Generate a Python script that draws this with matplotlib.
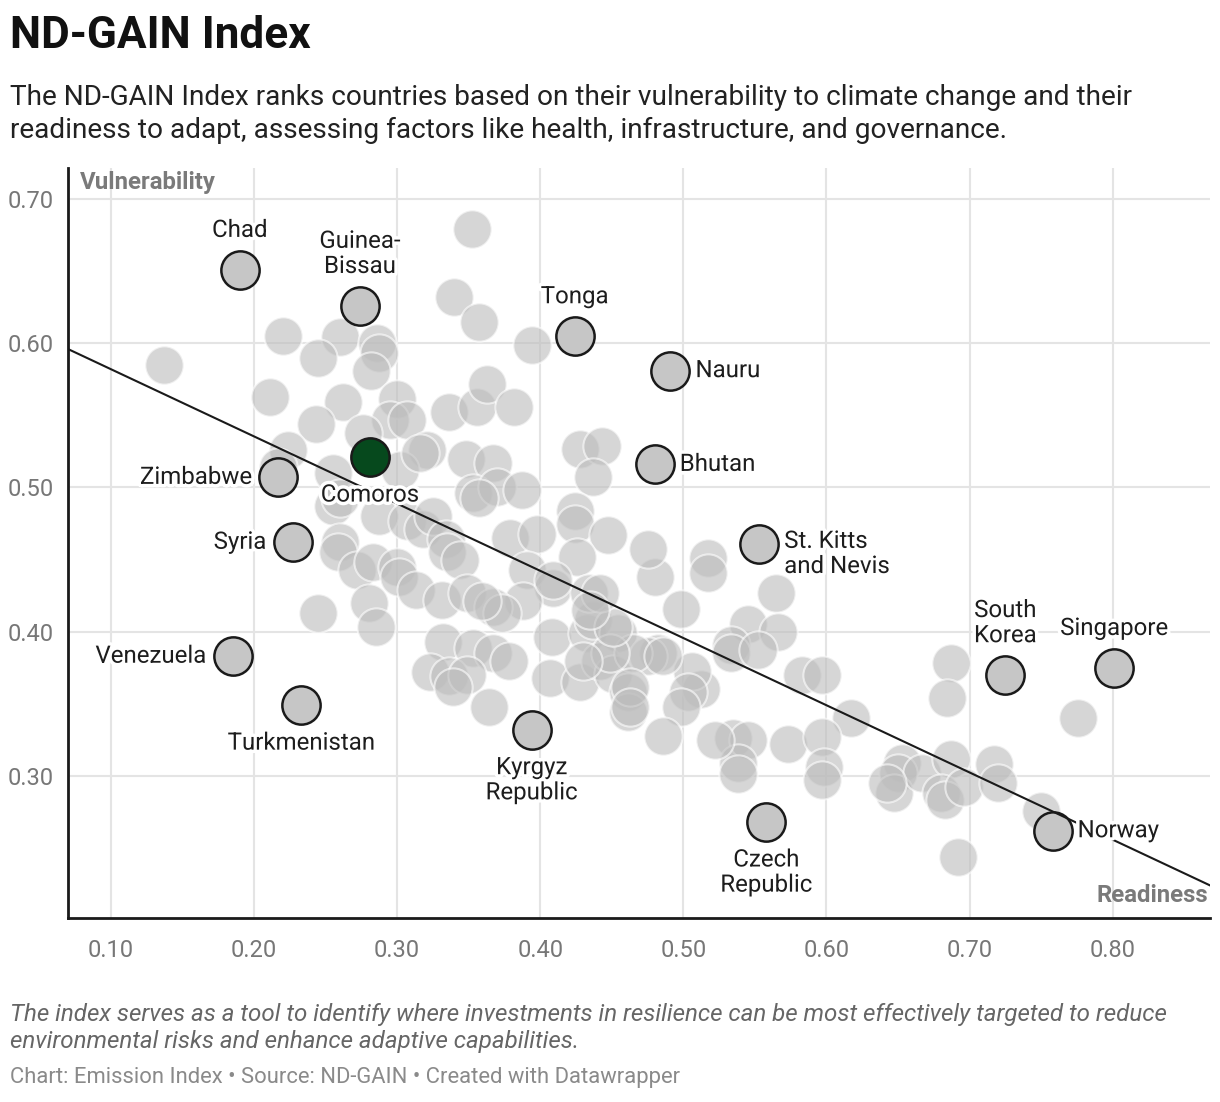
import matplotlib.pyplot as plt
import matplotlib.patheffects as pe
import numpy as np

plt.rcParams['font.family'] = ['Roboto', 'DejaVu Sans']

# readiness (x) / vulnerability (y) for the unlabelled countries
grey_x = [0.352, 0.340, 0.357, 0.394, 0.137, 0.220, 0.260, 0.245, 0.286, 0.287,
          0.282, 0.211, 0.262, 0.300, 0.243, 0.295, 0.307, 0.336, 0.356, 0.363,
          0.382, 0.224, 0.217, 0.321, 0.348, 0.367, 0.302, 0.353, 0.370, 0.387,
          0.255, 0.276, 0.316, 0.357, 0.428, 0.443, 0.437, 0.424, 0.424, 0.447,
          0.426, 0.255, 0.260, 0.260, 0.259, 0.272, 0.283, 0.300, 0.301, 0.287,
          0.307, 0.318, 0.325, 0.334, 0.335, 0.344, 0.379, 0.398, 0.391, 0.409,
          0.388, 0.313, 0.331, 0.349, 0.367, 0.373, 0.359, 0.245, 0.280, 0.285,
          0.332, 0.353, 0.367, 0.378, 0.323, 0.336, 0.349, 0.339, 0.364, 0.408,
          0.433, 0.437, 0.454, 0.434, 0.407, 0.428, 0.442, 0.451, 0.461, 0.461,
          0.480, 0.475, 0.517, 0.517, 0.498, 0.565, 0.545, 0.566, 0.533, 0.533,
          0.552, 0.583, 0.597, 0.617, 0.573, 0.597, 0.598, 0.597, 0.535, 0.545,
          0.538, 0.538, 0.522, 0.512, 0.506, 0.503, 0.498, 0.486, 0.482, 0.475,
          0.465, 0.486, 0.463, 0.463, 0.449, 0.430, 0.451, 0.442, 0.435, 0.409,
          0.687, 0.684, 0.776, 0.653, 0.650, 0.647, 0.667, 0.687, 0.680, 0.683,
          0.696, 0.717, 0.720, 0.750, 0.692, 0.642]
grey_y = [0.679, 0.632, 0.615, 0.599, 0.585, 0.605, 0.604, 0.590, 0.600, 0.593,
          0.581, 0.563, 0.559, 0.561, 0.544, 0.547, 0.547, 0.552, 0.556, 0.572,
          0.556, 0.526, 0.514, 0.526, 0.520, 0.517, 0.512, 0.496, 0.500, 0.498,
          0.510, 0.538, 0.524, 0.493, 0.527, 0.529, 0.507, 0.484, 0.475, 0.467,
          0.452, 0.487, 0.493, 0.462, 0.455, 0.443, 0.448, 0.445, 0.438, 0.480,
          0.477, 0.471, 0.480, 0.464, 0.455, 0.450, 0.465, 0.468, 0.443, 0.430,
          0.421, 0.429, 0.422, 0.427, 0.417, 0.413, 0.421, 0.413, 0.420, 0.403,
          0.393, 0.389, 0.385, 0.380, 0.372, 0.369, 0.370, 0.362, 0.348, 0.396,
          0.399, 0.408, 0.399, 0.427, 0.368, 0.365, 0.380, 0.371, 0.358, 0.344,
          0.438, 0.457, 0.451, 0.441, 0.416, 0.427, 0.405, 0.400, 0.391, 0.385,
          0.387, 0.370, 0.370, 0.340, 0.322, 0.327, 0.306, 0.297, 0.326, 0.325,
          0.309, 0.301, 0.325, 0.360, 0.373, 0.358, 0.348, 0.328, 0.385, 0.383,
          0.385, 0.383, 0.362, 0.348, 0.385, 0.380, 0.403, 0.427, 0.415, 0.436,
          0.378, 0.354, 0.340, 0.309, 0.302, 0.288, 0.302, 0.312, 0.288, 0.283,
          0.292, 0.308, 0.295, 0.276, 0.244, 0.295]

names = ['Chad', 'Guinea-\nBissau', 'Tonga', 'Nauru', 'Bhutan', 'Comoros', 'Zimbabwe',
         'Syria', 'St. Kitts\nand Nevis', 'Venezuela', 'Turkmenistan', 'Kyrgyz\nRepublic',
         'Czech\nRepublic', 'South\nKorea', 'Singapore', 'Norway']
named_x = [0.190, 0.274, 0.424, 0.491, 0.480, 0.281, 0.217, 0.227, 0.553, 0.185,
           0.233, 0.394, 0.558, 0.725, 0.801, 0.758]
named_y = [0.651, 0.626, 0.605, 0.581, 0.516, 0.521, 0.507, 0.462, 0.461, 0.383,
           0.349, 0.332, 0.268, 0.370, 0.375, 0.262]
highlight = 'Comoros'

# trend line
trend_a = 0.6286
trend_b = -0.466

# label placement: where the label sits relative to its dot
place = ['above', 'above', 'above', 'right', 'right', 'below', 'left', 'left', 'right2',
         'left', 'below', 'below', 'below', 'above', 'above', 'right']

fig = plt.figure(figsize=(12.2, 11.02), dpi=100)
ax = fig.add_axes([68 / 1220, 1 - 918 / 1102, (1210 - 68) / 1220, (918 - 168) / 1102])

ax.set_xlim(0.07, 0.868)
ax.set_ylim(0.2015, 0.7215)

ax.scatter(grey_x, grey_y, s=760, c='#bcbcbc', alpha=0.6, edgecolors='white',
           linewidths=1.5, zorder=2)

for n, x, y in zip(names, named_x, named_y):
    fc = '#06491d' if n == highlight else '#c6c6c6'
    ax.scatter([x], [y], s=760, c=fc, edgecolors='#1a1a1a', linewidths=1.8, zorder=3)

xs = np.array([0.07, 0.868])
ax.plot(xs, trend_a + trend_b * xs, color='#1a1a1a', lw=1.5, zorder=4)

halo = [pe.withStroke(linewidth=5, foreground='white')]
for n, x, y, p in zip(names, named_x, named_y, place):
    if p == 'above':
        off, ha, va = (0, 20), 'center', 'bottom'
    elif p == 'below':
        off, ha, va = (0, -19), 'center', 'top'
    elif p == 'left':
        off, ha, va = (-19, 0), 'right', 'center'
    elif p == 'right2':
        off, ha, va = (18, 10), 'left', 'top'
    else:
        off, ha, va = (18, 0), 'left', 'center'
    ax.annotate(n, (x, y), xytext=off, textcoords='offset points', ha=ha, va=va,
                fontsize=17.3, color='#1d1d1d', linespacing=1.12, zorder=5,
                path_effects=halo)

ax.set_xticks([0.1, 0.2, 0.3, 0.4, 0.5, 0.6, 0.7, 0.8])
ax.set_yticks([0.3, 0.4, 0.5, 0.6, 0.7])
ax.xaxis.set_major_formatter(plt.FormatStrFormatter('%.2f'))
ax.yaxis.set_major_formatter(plt.FormatStrFormatter('%.2f'))
ax.tick_params(length=0, labelsize=17, labelcolor='#777777')
ax.tick_params(axis='x', pad=15)
ax.tick_params(axis='y', pad=10)
ax.grid(True, color='#e4e4e4', lw=1.5, zorder=0)
ax.set_axisbelow(True)
for s in ['top', 'right']:
    ax.spines[s].set_visible(False)
for s in ['left', 'bottom']:
    ax.spines[s].set_linewidth(2)
    ax.spines[s].set_color('#1a1a1a')

fig.text(80 / 1220, 1 - 182 / 1102, 'Vulnerability', fontsize=17.3, fontweight='bold',
         color='#7a7a7a', va='center', ha='left')
fig.text(1208 / 1220, 1 - 896 / 1102, 'Readiness', fontsize=17.3, fontweight='bold',
         color='#7a7a7a', va='center', ha='right')

fig.text(10 / 1220, 1 - 36 / 1102, 'ND-GAIN Index', fontsize=31.8, fontweight='bold',
         color='#111111', va='center', ha='left')
fig.text(10 / 1220, 1 - 114 / 1102,
         'The ND-GAIN Index ranks countries based on their vulnerability to climate change and their\n'
         'readiness to adapt, assessing factors like health, infrastructure, and governance.',
         fontsize=20.2, color='#222222', va='center', ha='left', linespacing=1.3)
fig.text(10 / 1220, 1 - 1028 / 1102,
         'The index serves as a tool to identify where investments in resilience can be most effectively targeted to reduce\n'
         'environmental risks and enhance adaptive capabilities.',
         fontsize=17.4, style='italic', color='#666666', va='center', ha='left', linespacing=1.2)
fig.text(10 / 1220, 1 - 1078 / 1102,
         'Chart: Emission Index \u2022 Source: ND-GAIN \u2022 Created with Datawrapper',
         fontsize=15.8, color='#8a8a8a', va='center', ha='left')

fig.savefig('out.png', dpi=100, facecolor='white')
